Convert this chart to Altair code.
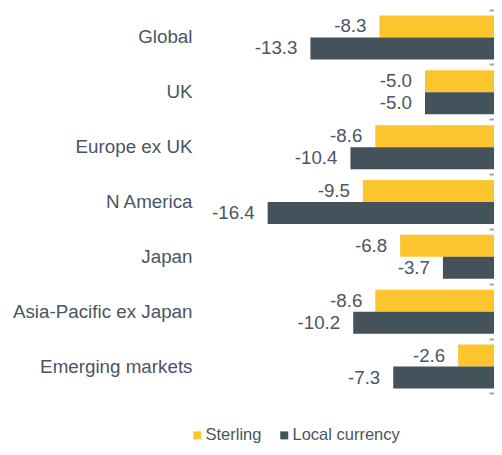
import altair as alt
import pandas as pd

regions = ["Global", "UK", "Europe ex UK", "N America", "Japan",
           "Asia-Pacific ex Japan", "Emerging markets"]
sterling = [-8.3, -5.0, -8.6, -9.5, -6.8, -8.6, -2.6]
local = [-13.3, -5.0, -10.4, -16.4, -3.7, -10.2, -7.3]
series = ["Sterling", "Local currency"]
colors = ["#FCC42D", "#44525C"]

rows = []
for r, s, l in zip(regions, sterling, local):
    rows.append({"region": r, "series": series[0], "value": s})
    rows.append({"region": r, "series": series[1], "value": l})
df = pd.DataFrame(rows)
df["label"] = df["value"].map(lambda v: f"{v:.1f}")

TXT = "#4A5561"
FONT = "Liberation Sans"

x = alt.X("value:Q", scale=alt.Scale(domain=[-21.3, 0], nice=False, zero=False), axis=None)
yscale = alt.Scale(paddingInner=0, paddingOuter=0)
yoff = alt.YOffset("series:N", sort=series, scale=alt.Scale(paddingInner=0, paddingOuter=0.247))

bars = alt.Chart(df).mark_bar().encode(
    x=x,
    y=alt.Y("region:N", sort=regions, scale=yscale,
            axis=alt.Axis(title=None, ticks=False, domain=False, labelFontSize=18.8,
                          labelColor=TXT, labelFont=FONT, labelPadding=8, labelLimit=400)),
    yOffset=yoff,
    color=alt.Color("series:N", sort=series,
                    scale=alt.Scale(domain=series, range=colors),
                    legend=alt.Legend(orient="none", direction="horizontal", legendX=-11, legendY=417,
                                      title=None, symbolType="square", symbolSize=64,
                                      symbolStrokeWidth=0, labelFontSize=16.5, labelColor=TXT,
                                      labelFont=FONT, labelOffset=0, columnPadding=14)),
)

labels = alt.Chart(df).mark_text(align="right", baseline="middle", dx=-13, fontSize=18.7,
                                 color=TXT, font=FONT).encode(
    x=x,
    y=alt.Y("region:N", sort=regions, scale=yscale,
            axis=alt.Axis(title=None, orient="right", labels=False, domain=False, ticks=True,
                          tickSize=5, offset=-5, bandPosition=1, tickExtra=True,
                          tickColor="#A6A6A6", tickWidth=2, zindex=1,
                          minExtent=0, maxExtent=0)),
    yOffset=yoff,
    text="label:N",
)

chart = alt.layer(bars, labels).resolve_axis(y="independent").properties(
    width=294, height=384,
    autosize=alt.AutoSizeParams(type="none"),
    padding={"left": 192, "top": 2, "right": 0, "bottom": 52},
).configure_view(stroke=None)

chart.save("out.html", embed_options={"renderer": "svg", "actions": False})
